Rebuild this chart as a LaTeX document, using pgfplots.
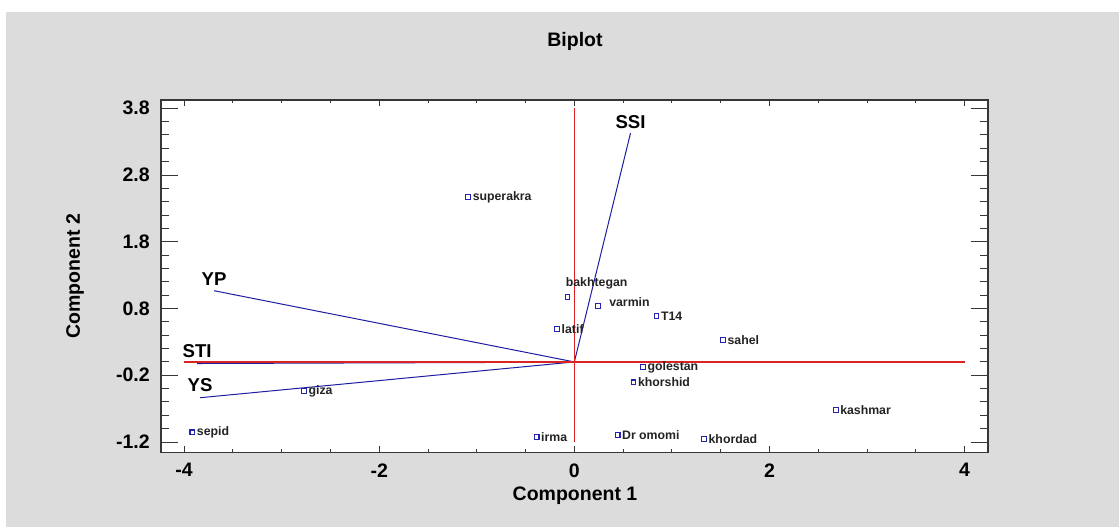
\documentclass[border=0pt]{standalone}
\usepackage{pgfplots}
\pgfplotsset{compat=1.18}
\usepackage{fontspec}
\setmainfont{Liberation Sans}
\definecolor{bggray}{RGB}{220,220,220}
\definecolor{framegray}{RGB}{55,55,55}
\definecolor{vecblue}{RGB}{30,30,160}
\definecolor{axred}{RGB}{220,35,35}
\definecolor{ptblue}{RGB}{35,35,175}
\definecolor{lblgray}{RGB}{35,35,35}
\begin{document}
\begin{tikzpicture}
\path[fill=white, use as bounding box] (0pt,0pt) rectangle (559.5pt,-263.5pt);
\fill[bggray] (3pt,-6pt) rectangle (559.5pt,-263.5pt);
\pgfplotsset{
  common/.style={
    at={(80.35pt,-226.15pt)}, anchor=south west,
    scale only axis, width=413.65pt, height=176.15pt,
    xmin=-4.24, xmax=4.24, ymin=-1.354, ymax=3.924,
    axis line style={draw=framegray, line width=0.8pt},
    clip=false,
  }
}
% axis for the short x ticks (drawn first, underneath)
\begin{axis}[common,
  axis background/.style={fill=white},
  xtick={-4,-2,0,2,4}, xticklabels={},
  minor x tick num=3,
  ytick=\empty,
  major tick length=3pt, minor tick length=1.5pt,
  tick style={draw=framegray, line width=0.5pt},
]
\end{axis}
% main axis with y ticks, labels and content
\begin{axis}[common,
  xtick={-4,-2,0,2,4}, xticklabels={-4,-2,0,2,4},
  minor x tick num=3,
  major x tick style={draw=none}, minor x tick style={draw=none},
  ytick={-1.2,-0.2,0.8,1.8,2.8,3.8}, yticklabels={-1.2,-0.2,0.8,1.8,2.8,3.8},
  minor y tick num=4,
  major tick length=8.5pt, minor tick length=4pt,
  tick style={draw=framegray, line width=0.5pt},
  tick label style={font=\fontsize{9.75}{11}\selectfont\bfseries, text=black, inner sep=0pt},
  yticklabel style={anchor=east, xshift=-5.3pt},
  xticklabel style={anchor=north, yshift=-5.4pt},
  xlabel={Component 1}, ylabel={Component 2},
  label style={font=\fontsize{9.75}{11}\selectfont\bfseries, inner sep=0pt},
  xlabel style={at={(axis description cs:0.5008,-0.1226)}, anchor=center},
  ylabel style={at={(axis description cs:-0.1036,0.5)}, anchor=center},
  title={Biplot},
  every axis title/.style={font=\fontsize{9.75}{11}\selectfont\bfseries, at={(axis description cs:0.5008,1.153)}, anchor=base, inner sep=0pt},
]
% variable vectors
\addplot[vecblue, line width=0.5pt] coordinates {(0,0) (0.576,3.43)} node[pos=1, anchor=south, inner sep=0pt, yshift=1.8pt, font=\fontsize{9.3}{11}\selectfont\bfseries, text=black] {SSI};
\addplot[vecblue, line width=0.5pt] coordinates {(0,0) (-3.693,1.067)} node[pos=1, anchor=south, inner sep=0pt, yshift=2.5pt, font=\fontsize{9.3}{11}\selectfont\bfseries, text=black] {YP};
\addplot[vecblue, line width=0.75pt] coordinates {(0,0) (-3.867,-0.02)} node[pos=1, anchor=south, inner sep=0pt, yshift=2.3pt, font=\fontsize{9.3}{11}\selectfont\bfseries, text=black] {STI};
\addplot[vecblue, line width=0.5pt] coordinates {(0,0) (-3.836,-0.536)} node[pos=1, anchor=south, inner sep=0pt, yshift=2.7pt, font=\fontsize{9.3}{11}\selectfont\bfseries, text=black] {YS};
% observations
\addplot[only marks, mark=square, mark size=1.2pt, mark options={draw=ptblue, line width=0.55pt},
  nodes near coords, point meta=explicit symbolic,
  nodes near coords style={anchor=west, inner sep=0pt, xshift=2pt, font=\fontsize{6.15}{7}\selectfont\bfseries, text=lblgray}]
table[meta=label] {
x y label
-1.088 2.471 superakra
0.842 0.688 T14
-0.176 0.498 latif
1.524 0.333 sahel
0.705 -0.081 golestan
0.606 -0.306 khorshid
2.679 -0.725 kashmar
-0.387 -1.125 irma
0.443 -1.099 {Dr omomi}
1.330 -1.159 khordad
-2.771 -0.436 giza
-3.915 -1.055 sepid
};
\addplot[only marks, mark=square, mark size=1.2pt, mark options={draw=ptblue, line width=0.55pt},
  nodes near coords, point meta=explicit symbolic,
  nodes near coords style={anchor=west, inner sep=0pt, xshift=5.3pt, yshift=2pt, font=\fontsize{6.15}{7}\selectfont\bfseries, text=lblgray}]
table[meta=label] {
x y label
0.244 0.842 varmin
};
\addplot[only marks, mark=square, mark size=1.2pt, mark options={draw=ptblue, line width=0.55pt},
  nodes near coords, point meta=explicit symbolic,
  nodes near coords style={anchor=west, inner sep=0pt, xshift=-1.1pt, yshift=6.6pt, font=\fontsize{6.15}{7}\selectfont\bfseries, text=lblgray}]
table[meta=label] {
x y label
-0.070 0.973 bakhtegan
};
% red reference lines
\addplot[color=axred, line width=0.7pt] coordinates {(-4,0) (4,0)};
\addplot[color=axred, line width=0.55pt] coordinates {(0,-1.2) (0,3.8)};
\end{axis}
\end{tikzpicture}
\end{document}
